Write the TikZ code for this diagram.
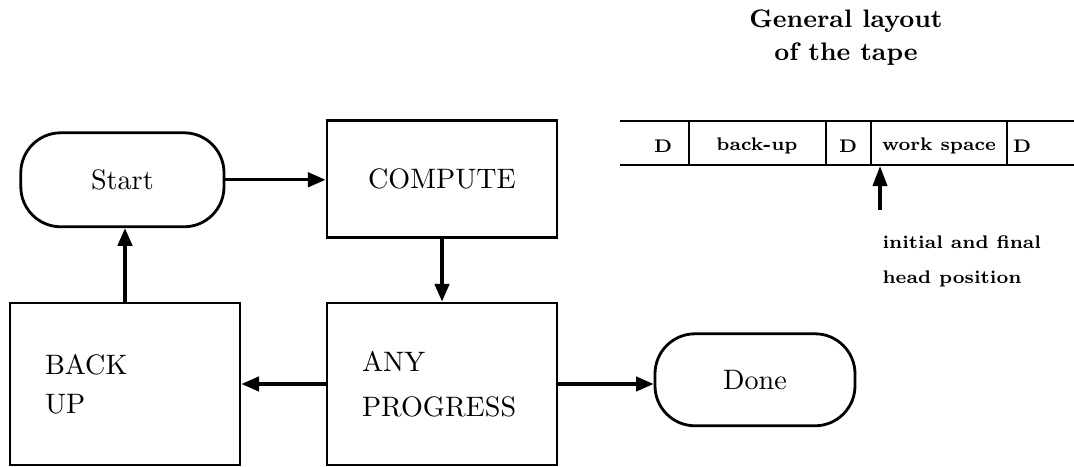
\documentclass[tikz,border=0pt]{standalone}
\usepackage{fontspec}
\usetikzlibrary{arrows.meta}

\tikzset{
  box/.style={draw, line width=1pt, inner sep=0pt, font=\fontsize{10}{13}\selectfont},
  terminal/.style={box, rounded corners=0.5cm},
  flow/.style={line width=1.1pt, -{Triangle[length=2.2mm,width=1.8mm]}},
  tapeline/.style={line width=0.9pt},
  tapetext/.style={inner sep=0pt, font=\fontsize{6.5}{12.4}\selectfont\bfseries\addfontfeatures{LetterSpace=8}},
}

\begin{document}
\begin{tikzpicture}
  \useasboundingbox (0,0) rectangle (13.425,5.8375);
  % flow chart
  \node[terminal, minimum width=2.54cm, minimum height=1.175cm] (start) at (1.53,3.59) {Start};
  \node[box, minimum width=2.875cm, minimum height=1.4625cm] (compute) at (5.525,3.6) {COMPUTE};
  \node[box, minimum width=2.875cm, minimum height=2.025cm, text width=2cm, align=left] (progress) at (5.525,1.0375) {ANY\\[3pt] PROGRESS};
  \node[box, minimum width=2.875cm, minimum height=2.025cm, text width=2cm, align=left] (backup) at (1.5625,1.0375) {BACK\\[1pt] UP};
  \node[terminal, minimum width=2.5cm, minimum height=1.15cm] (done) at (9.4375,1.09) {Done};

  \draw[flow] (start.east) -- (start.east -| compute.west);
  \draw[flow] (compute) -- (progress);
  \draw[flow] (progress) -- (backup);
  \draw[flow] (backup.north) -- (backup.north |- start.south);
  \draw[flow] (progress.east) -- (progress.east -| done.west);

  % the tape
  \node[inner sep=0pt, anchor=north, align=center, font=\fontsize{9}{11.7}\selectfont\bfseries] (title) at (10.575,5.72) {General layout\\ of the tape};
  \draw[tapeline] (7.75,4.325) -- (13.425,4.325) (7.75,3.775) -- (13.425,3.775);
  \foreach \x in {8.6125,10.325,10.8875,12.5875}
    \draw[tapeline] (\x,4.325) -- (\x,3.775);
  \node[tapetext] (d1) at (8.2875,4.01) {D};
  \node[tapetext] (backspace) at (9.4625,4.01) {back-up};
  \node[tapetext] (d2) at (10.6,4.01) {D};
  \node[tapetext] (workspace) at (11.7375,4.01) {work space};
  \node[tapetext] (d3) at (12.775,4.01) {D};

  \coordinate (head) at (11,3.76);
  \coordinate (tail) at (11,3.2125);
  \draw[line width=1.1pt, -{Triangle[length=2.5mm,width=1.8mm]}] (tail) -- (head);
  \node[tapetext, anchor=north west, align=left] (headpos) at (11.025,2.9) {initial and final\\ head position};
\end{tikzpicture}
\end{document}
